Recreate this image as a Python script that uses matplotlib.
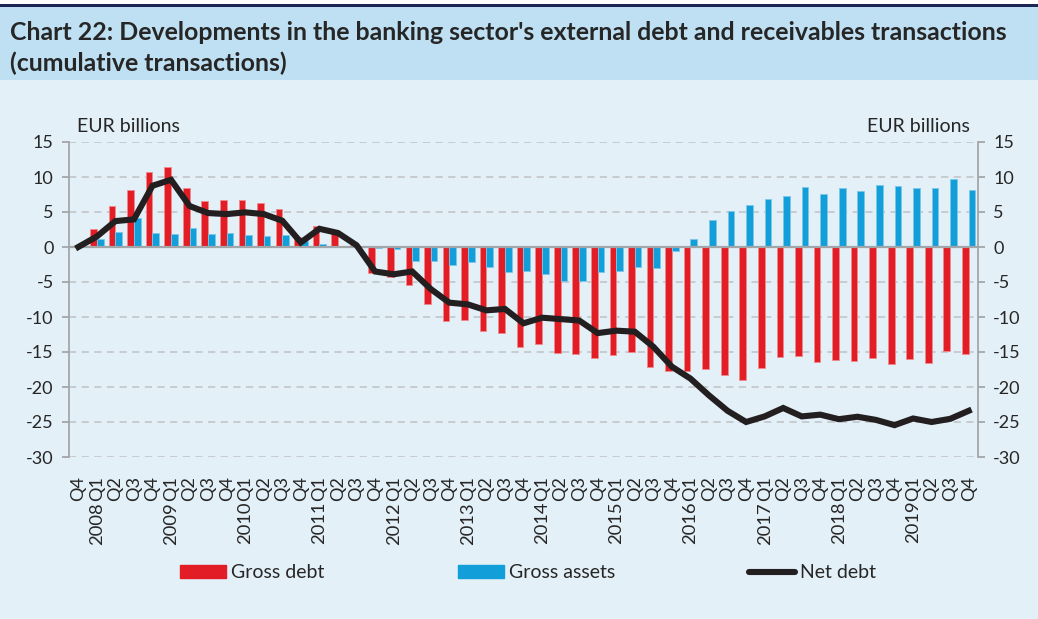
import matplotlib
matplotlib.use("Agg")
import matplotlib.pyplot as plt
import matplotlib.patches as mpatches
import matplotlib.lines as mlines
import matplotlib.transforms as mtransforms
import numpy as np

quarters = ["Q4"] + ["Q1", "Q2", "Q3", "Q4"] * 12
years = [str(y) for y in range(2008, 2020)]

gross_debt = [0.0, 2.6, 5.8, 8.1, 10.7, 11.4, 8.5, 6.6, 6.65, 6.65, 6.3, 5.4, 1.5, 2.95,
              2.1, 0.25, -3.7, -4.3, -5.45, -8.1, -10.6, -10.4, -11.95, -12.35, -14.3,
              -13.9, -15.1, -15.3, -15.8, -15.4, -15.05, -17.2, -17.7, -17.65, -17.4,
              -18.3, -19.05, -17.25, -15.75, -15.55, -16.4, -16.2, -16.25, -15.8, -16.75,
              -16.0, -16.5, -14.85, -15.3]
gross_assets = [0.0, 1.1, 2.1, 4.2, 1.95, 1.8, 2.7, 1.8, 1.95, 1.7, 1.6, 1.7, 0.85, 0.4,
                0.05, 0.0, -0.1, -0.35, -1.95, -2.05, -2.6, -2.2, -2.9, -3.5, -3.45, -3.8,
                -4.8, -4.8, -3.5, -3.45, -2.9, -2.95, -0.6, 1.1, 3.8, 5.15, 5.95, 6.9, 7.25,
                8.6, 7.55, 8.4, 8.0, 8.9, 8.7, 8.5, 8.5, 9.7, 8.1]
net_debt = [0.0, 1.5, 3.7, 3.95, 8.75, 9.6, 5.85, 4.85, 4.7, 4.95, 4.7, 3.75, 0.65, 2.6,
            2.0, 0.25, -3.5, -3.9, -3.5, -6.0, -7.95, -8.2, -9.05, -8.85, -10.9, -10.1,
            -10.3, -10.5, -12.3, -11.95, -12.1, -14.25, -17.1, -18.8, -21.2, -23.4, -25.0,
            -24.2, -23.0, -24.2, -23.95, -24.6, -24.25, -24.7, -25.45, -24.5, -25.0,
            -24.55, -23.4]

RED = "#E31D25"
BLUE = "#129ED9"
BLACK = "#231F20"
GRID = "#C5C9CC"
AXC = "#A3A6A8"
TXT = "#262626"
FONT = "Lato"

plt.rcParams["font.family"] = [FONT, "DejaVu Sans"]

W, H = 1038, 619
fig = plt.figure(figsize=(W / 100, H / 100), dpi=100)
fig.patch.set_facecolor("#E3F0F7")

# header band
fig.patches.append(mpatches.Rectangle((0, 1 - 80 / H), 1, 80 / H, transform=fig.transFigure,
                                      facecolor="#BEE0F2", edgecolor="none", zorder=0))
fig.patches.append(mpatches.Rectangle((0, 1 - 4 / H), 1, 4 / H, transform=fig.transFigure,
                                      facecolor="white", edgecolor="none", zorder=1))
fig.patches.append(mpatches.Rectangle((0, 1 - 7 / H), 1, 3 / H, transform=fig.transFigure,
                                      facecolor="#1B2556", edgecolor="none", zorder=1))

fig.text(10 / W, 1 - 32 / H,
         "Chart 22: Developments in the banking sector's external debt and receivables transactions",
         fontsize=17.9, fontweight="bold", color=TXT, va="center", ha="left")
fig.text(10 / W, 1 - 63 / H, "(cumulative transactions)",
         fontsize=17.9, fontweight="bold", color=TXT, va="center", ha="left")

left, right, top, bottom = 69, 978, 142, 457
ax = fig.add_axes([left / W, 1 - bottom / H, (right - left) / W, (bottom - top) / H])
ax.set_facecolor("none")

x = np.arange(len(quarters))
bw = 0.36
ax.bar(x - bw / 2, gross_debt, width=bw, color=RED, edgecolor="#EE8A8E", linewidth=0.6,
       zorder=3, label="Gross debt")
ax.bar(x + bw / 2, gross_assets, width=bw, color=BLUE, edgecolor="#7CC8EA", linewidth=0.6,
       zorder=3, label="Gross assets")
ax.plot(x, net_debt, color=BLACK, linewidth=4.4, solid_joinstyle="miter", zorder=4,
        label="Net debt")

ax.set_xlim(-0.5, len(quarters) - 0.5)
ax.set_ylim(-30, 15)
yt = np.arange(-30, 16, 5)
ax.set_yticks(yt)
ax.set_yticklabels([str(v) for v in yt])
for v in yt:
    if v == 0:
        ax.axhline(0, color=AXC, linewidth=1.6, zorder=3.5)
    else:
        ax.axhline(v, color=GRID, linewidth=1.3, linestyle=(0, (4, 3)), zorder=1)

for s in ["top", "bottom"]:
    ax.spines[s].set_visible(False)
for s in ["left", "right"]:
    ax.spines[s].set_color(AXC)
    ax.spines[s].set_linewidth(1.3)

ax.tick_params(axis="y", which="both", left=True, right=True, labelleft=True,
               labelright=True, direction="out", length=5, width=1.3, color=AXC,
               labelsize=13, labelcolor=TXT, pad=6)
ax.set_xticks(x)
ax.set_xticklabels(quarters, rotation=90, fontsize=13, color=TXT, va="top")
ax.tick_params(axis="x", length=0, pad=14)

trans = mtransforms.blended_transform_factory(ax.transData, fig.transFigure)
for i, yr in enumerate(years):
    xi = 1 + 4 * i
    ytop = 502 if yr != "2019" else 500
    ax.text(xi, 1 - ytop / H, yr, rotation=90, ha="center", va="top", fontsize=13.2,
            color=TXT, transform=trans)

fig.text(77 / W, 1 - 126 / H, "EUR billions", fontsize=14, color=TXT, ha="left", va="center")
fig.text(970 / W, 1 - 126 / H, "EUR billions", fontsize=14, color=TXT, ha="right", va="center")

h1 = mpatches.Patch(color=RED, label="Gross debt")
h2 = mpatches.Patch(color=BLUE, label="Gross assets")
h3 = mlines.Line2D([], [], color=BLACK, linewidth=4.4, solid_capstyle="round", label="Net debt")
fig.legend(handles=[h1, h2, h3], loc="center", bbox_to_anchor=(528 / W, 1 - 573 / H),
           ncol=3, frameon=False, fontsize=14, handlelength=2.35, handleheight=0.65,
           handletextpad=0.25, columnspacing=6.9, borderpad=0, labelcolor=TXT)

fig.savefig("out.png", dpi=100, facecolor=fig.get_facecolor())
